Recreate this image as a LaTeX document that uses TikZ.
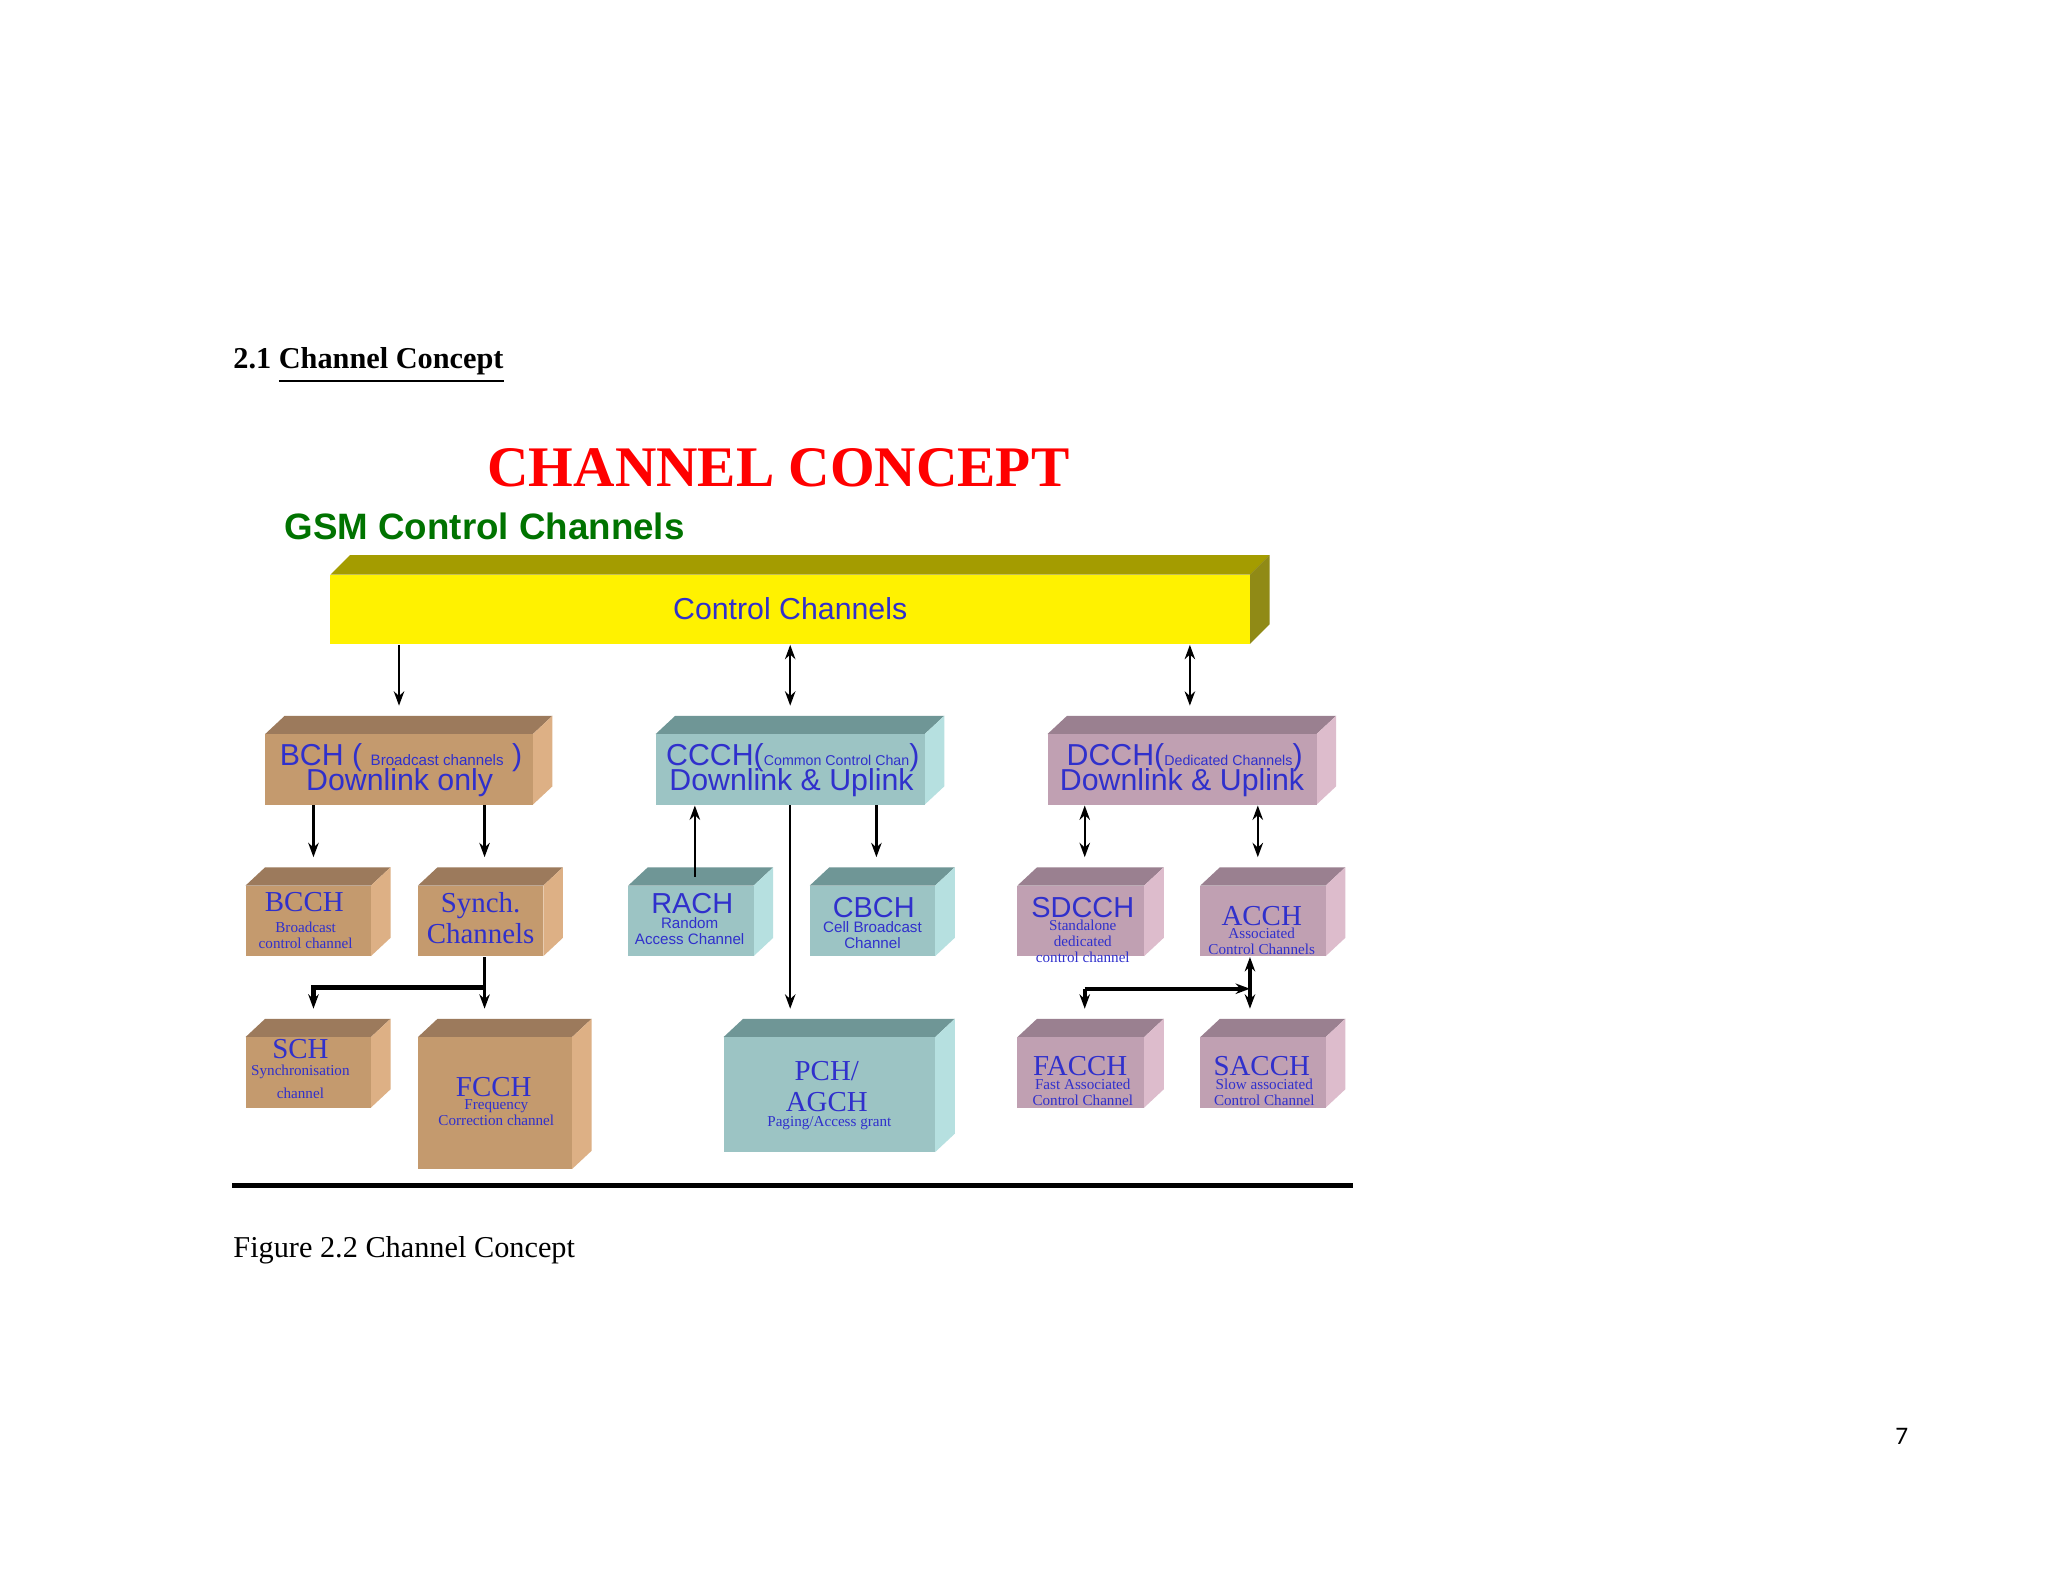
\documentclass[tikz,border=0pt]{standalone}
\usepackage{fontspec}
\setmainfont{Liberation Serif}
\setsansfont{Liberation Sans}
\newfontfamily\pagenum{Carlito}
\usetikzlibrary{fit,arrows.meta}
\definecolor{bfront}{HTML}{C49A6E}\definecolor{btop}{HTML}{9C7A5C}\definecolor{bside}{HTML}{DDB085}
\definecolor{tfront}{HTML}{9CC4C4}\definecolor{ttop}{HTML}{6F9696}\definecolor{tside}{HTML}{B6E0E0}
\definecolor{pfront}{HTML}{C0A0B2}\definecolor{ptop}{HTML}{9A8090}\definecolor{pside}{HTML}{DDBCCC}
\definecolor{tblue}{HTML}{3030CC}
\newcommand\fs[1]{\fontsize{#1}{#1}\selectfont}
\newcommand\mycube[8]{%
 \fill[#6] (#1,#2) -- ({#1+15},{#2-14}) -- ({#3+15},{#2-14}) -- (#3,#2) -- cycle;
 \fill[#7] (#3,#2) -- ({#3+15},{#2-14}) -- ({#3+15},{#4-14}) -- (#3,#4) -- cycle;
 \fill[#5] (#1,#2) rectangle (#3,#4);
 \node[fit={(#1,{#2-14}) (#3,#4)}, inner sep=0pt] (#8) {};}
\tikzset{
 lab/.style={text=tblue, inner sep=0pt, align=center},
 big/.style={font=\fontsize{6.3}{6.8}\selectfont},
 bigs/.style={font=\sffamily\fs{6.3}},
 small/.style={font=\fontsize{3.3}{3.5}\selectfont},
 smalls/.style={font=\sffamily\fontsize{3.3}{3.5}\selectfont},
 arr/.style={-{Stealth[length=1.1mm,width=0.8mm]}, line width=0.5pt},
 barr/.style={{Stealth[length=1.1mm,width=0.8mm]}-{Stealth[length=1.1mm,width=0.8mm]}, line width=0.5pt}
}
\begin{document}
\begin{tikzpicture}[x=0.1mm,y=-0.1mm]
\useasboundingbox (0,0) rectangle (1568,1211);
\fill[white] (0,0) rectangle (1568,1211);
\node[anchor=base west, inner sep=0pt] (head) at (178,282) {\fs{6.6}\bfseries 2.1 \underline{Channel Concept}};
\node[text=red, inner sep=0pt] (title) at (596,358) {\fs{12.5}\bfseries CHANNEL CONCEPT};
\node[text=green!45!black, inner sep=0pt] (gsm) at (371,403) {\sffamily\fs{8}\bfseries GSM Control Channels};
% yellow bar
\fill[olive!80!yellow] (253,440) -- (268,425) -- (972,425) -- (957,440) -- cycle;
\fill[olive!80!yellow!85!black] (957,440) -- (972,425) -- (972,478) -- (957,493) -- cycle;
\fill[yellow] (253,440) rectangle (957,493);
\node[fit={(253,425) (957,493)}, inner sep=0pt] (bar) {};
\node[lab] (barl) at (605,466) {\sffamily\fs{6.6}Control Channels};
% level 1
\mycube{203}{562}{408}{616}{bfront}{btop}{bside}{bch}
\mycube{502}{562}{708}{616}{tfront}{ttop}{tside}{ccch}
\mycube{802}{562}{1008}{616}{pfront}{ptop}{pside}{dcch}
\node[lab] (bchl1) at (307,580) {\sffamily\fs{6.6}BCH ( {\fs{3.3}Broadcast channels} )};
\node[lab] (bchl2) at (306,599) {\sffamily\fs{6.6}Downlink only};
\node[lab] (ccl1) at (607,580) {\sffamily\fs{6.6}CCCH({\fs{3.1}Common Control Chan})};
\node[lab] (ccl2) at (606,599) {\sffamily\fs{6.6}Downlink \& Uplink};
\node[lab] (dcl1) at (907,580) {\sffamily\fs{6.6}DCCH({\fs{3.1}Dedicated Channels})};
\node[lab] (dcl2) at (905,599) {\sffamily\fs{6.6}Downlink \& Uplink};
% level 2
\mycube{188}{678}{284}{732}{bfront}{btop}{bside}{bcch}
\mycube{320}{678}{416}{732}{bfront}{btop}{bside}{synch}
\mycube{481}{678}{577}{732}{tfront}{ttop}{tside}{rach}
\mycube{620}{678}{716}{732}{tfront}{ttop}{tside}{cbch}
\mycube{779}{678}{876}{732}{pfront}{ptop}{pside}{sdcch}
\mycube{919}{678}{1015}{732}{pfront}{ptop}{pside}{acch}
\node[lab,big] (l1) at (233,691) {BCCH};
\node[lab,small] (l2) at (234,716) {Broadcast\\control channel};
\node[lab,big] (l3) at (368,703) {Synch.\\Channels};
\node[lab,bigs] (l4) at (530,692) {RACH};
\node[lab,smalls] (l5) at (528,713) {Random\\Access Channel};
\node[lab,bigs] (l6) at (669,695) {CBCH};
\node[lab,smalls] (l7) at (668,716) {Cell Broadcast\\Channel};
\node[lab,bigs] (l8) at (829,695) {SDCCH};
\node[lab,small] (l9) at (829,721) {Standalone\\dedicated\\control channel};
\node[lab,big] (l10) at (966,701) {ACCH};
\node[lab,small] (l11) at (966,721) {Associated\\Control Channels};
% level 3
\mycube{188}{794}{284}{848}{bfront}{btop}{bside}{sch}
\mycube{320}{794}{438}{895}{bfront}{btop}{bside}{fcch}
\mycube{554}{794}{716}{882}{tfront}{ttop}{tside}{pch}
\mycube{779}{794}{876}{848}{pfront}{ptop}{pside}{facch}
\mycube{919}{794}{1015}{848}{pfront}{ptop}{pside}{sacch}
\node[lab,big] (m1) at (230,803) {SCH};
\node[lab,small] (m2) at (230,828) {Synchronisation\\[1.5pt]channel};
\node[lab,big] (m3) at (378,832) {FCCH};
\node[lab,small] (m4) at (380,852) {Frequency\\Correction channel};
\node[lab,big] (m5) at (633,832) {PCH/\\AGCH};
\node[lab,small] (m6) at (635,860) {Paging/Access grant};
\node[lab,big] (m7) at (827,816) {FACCH};
\node[lab,small] (m8) at (829,836) {Fast Associated\\Control Channel};
\node[lab,big] (m9) at (966,816) {SACCH};
\node[lab,small] (m10) at (968,836) {Slow associated\\Control Channel};
% connectors
\draw[arr,shorten >=0.7mm] (bar.south -| bch.north) -- (bch.north);
\draw[barr,shorten >=0.7mm] (bar.south -| ccch.north) -- (ccch.north);
\draw[barr,shorten >=0.7mm] ([xshift=0.6mm]dcch.north |- bar.south) -- ([xshift=0.6mm]dcch.north);
\draw[arr,shorten >=0.7mm] ([xshift=0.4mm]bcch.north |- bch.south) -- ([xshift=0.4mm]bcch.north);
\draw[arr,shorten >=0.7mm] ([xshift=0.3mm]synch.north |- bch.south) -- ([xshift=0.3mm]synch.north);
\draw[arr] ([xshift=0.3mm]rach.north) ++(0,8) coordinate (r1) -- (r1 |- ccch.south);
\draw[arr,shorten >=0.7mm] ([xshift=0.3mm]cbch.north |- ccch.south) -- ([xshift=0.3mm]cbch.north);
\draw[arr,shorten >=0.7mm] (ccch.south) -- (ccch.south |- pch.north);
\draw[barr,shorten >=0.7mm] ([xshift=0.3mm]sdcch.north |- dcch.south) -- ([xshift=0.3mm]sdcch.north);
\draw[barr,shorten >=0.7mm] ([xshift=-0.4mm]acch.north |- dcch.south) -- ([xshift=-0.4mm]acch.north);
\coordinate (sj) at ([xshift=0.3mm]synch.south |- 0,756);
\draw[line width=0.5pt] ([xshift=0.3mm]synch.south) -- (sj);
\draw[arr,line width=0.9pt,shorten >=0.7mm] (sj) -| ([xshift=0.4mm]sch.north);
\draw[arr,shorten >=0.7mm] (sj) -- (sj |- fcch.north);
\coordinate (aj) at ([xshift=-1mm]acch.south |- 0,757);
\draw[barr,line width=0.7pt,shorten >=0.7mm] ([xshift=-1mm]acch.south) -- ([xshift=-1mm]sacch.north);
\draw[arr,line width=0.9pt,shorten >=0.7mm] ([xshift=0.3mm]facch.north |- aj) -- ([xshift=0.3mm]facch.north);
\draw[arr,line width=0.9pt] ([xshift=0.3mm]facch.north |- aj) -- (aj);
% rule and caption
\draw[line width=1.1pt] (178,908) coordinate (rl) -- (1036,908) coordinate (rr);
\node[anchor=base west, inner sep=0pt] (cap) at (178,963) {\fs{6.6}Figure 2.2 Channel Concept};
\node[inner sep=0pt] (pg) at (1456,1100) {\pagenum\fs{5.5}7};
\end{tikzpicture}
\end{document}
